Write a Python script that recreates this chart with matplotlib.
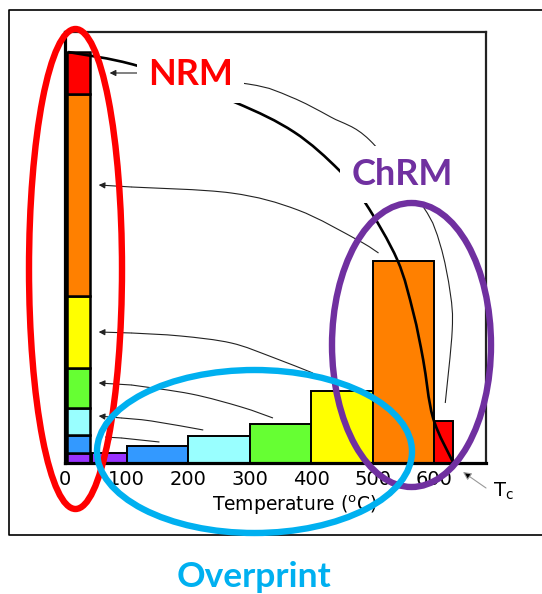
import matplotlib
matplotlib.use('Agg')
import matplotlib.pyplot as plt
from matplotlib.patches import Ellipse, PathPatch
from matplotlib.path import Path

W, H = 542, 594

# ---------------- data ----------------
step_colors = ['#9933FF', '#3399FF', '#99FFFF', '#66FF33', '#FFFF00', '#FF8000', '#FF0000']
step_lo = [44, 100, 200, 300, 400, 500, 600]
step_hi = [100, 200, 300, 400, 500, 600, 630]
step_moment = [10.5, 17.5, 27.5, 39.5, 72, 202, 42.5]

nrm_col_lo = 3
nrm_col_hi = 40

tick_vals = [0, 100, 200, 300, 400, 500, 600]
tick_labels = ['0', '100', '200', '300', '400', '500', '600']

# remaining magnetisation curve
curve_T = [5, 119, 275, 372, 445, 488, 540, 566, 582, 598, 631]
curve_M = [411, 397, 361, 331, 293, 260, 203, 150, 103, 45, 0]

# thin arcs linking each step to its NRM segment (T, M points) + arrow tip
red_arc_T = [617.8, 629.1, 625.9, 609.7, 582.2, 494.8, 431.7, 367.0, 297.4, 119.4]
red_arc_M = [60, 133, 170, 218, 256, 323, 346, 366, 379, 390]
red_tip = (72.5, 390)
orange_arc_T = [509.4, 475.4, 378.3, 270.2, 108.1]
orange_arc_M = [210, 223, 253, 270, 276]
orange_tip = (54.7, 278)
yellow_arc_T = [402.6, 336.2, 270.2, 188.0, 108.1]
yellow_arc_M = [90, 106, 120, 127, 130]
yellow_tip = (54.7, 131)
green_arc_T = [337.9, 286.4, 205.2, 108.1]
green_arc_M = [45, 56, 69, 78]
green_tip = (54.7, 80)
cyan_arc_T = [224.6, 140.5, 91.9]
cyan_arc_M = [33, 42, 45]
cyan_tip = (54.7, 47)
blue_arc_T = [153.4, 91.9]
blue_arc_M = [21, 25]
blue_tip = (64.4, 26)


def smooth_path(xs, ys):
    """Catmull-Rom curve through the given points, as a cubic Bezier Path."""
    pts = list(zip(xs, ys))
    if len(pts) < 3:
        return Path(pts)
    ext = [pts[0]] + pts + [pts[-1]]
    verts = [pts[0]]
    codes = [Path.MOVETO]
    for i in range(1, len(ext) - 2):
        p0, p1, p2, p3 = ext[i - 1], ext[i], ext[i + 1], ext[i + 2]
        c1 = (p1[0] + (p2[0] - p0[0]) / 6, p1[1] + (p2[1] - p0[1]) / 6)
        c2 = (p2[0] - (p3[0] - p1[0]) / 6, p2[1] - (p3[1] - p1[1]) / 6)
        verts += [c1, c2, p2]
        codes += [Path.CURVE4] * 3
    return Path(verts, codes)


# ---------------- figure ----------------
fig = plt.figure(figsize=(W / 100, H / 100), dpi=100)
ax = fig.add_axes([65 / W, 1 - 463 / H, (486 - 65) / W, (463 - 32) / H])
ax.set_xlim(2.9, 684)
ax.set_ylim(0, 431)

# histogram of blocked moments
widths = [h - l for l, h in zip(step_lo, step_hi)]
ax.bar(step_lo, step_moment, width=widths, align='edge', color=step_colors,
       edgecolor='black', linewidth=1.4, zorder=2)

# stacked NRM column
bottom = 0
for m, c in zip(step_moment, step_colors):
    ax.bar(nrm_col_lo, m, width=nrm_col_hi - nrm_col_lo, bottom=bottom, align='edge',
           color=c, edgecolor='black', linewidth=1.8, zorder=2)
    bottom += m

# demagnetisation curve
ax.add_patch(PathPatch(smooth_path(curve_T, curve_M), fill=False, ec='black',
                       lw=1.9, zorder=4, capstyle='butt'))

# arcs
arcs = [(red_arc_T, red_arc_M, red_tip), (orange_arc_T, orange_arc_M, orange_tip),
        (yellow_arc_T, yellow_arc_M, yellow_tip), (green_arc_T, green_arc_M, green_tip),
        (cyan_arc_T, cyan_arc_M, cyan_tip), (blue_arc_T, blue_arc_M, blue_tip)]
for aT, aM, tip in arcs:
    ax.add_patch(PathPatch(smooth_path(aT, aM), fill=False, ec='#222222', lw=0.8, zorder=3))
    ax.annotate('', xy=tip, xytext=(aT[-1], aM[-1]),
                arrowprops=dict(arrowstyle='-|>', color='#222222', lw=0.8,
                                mutation_scale=9, shrinkA=0, shrinkB=0), zorder=3)

# axes styling
for s in ['left', 'bottom']:
    ax.spines[s].set_linewidth(2.3)
    ax.spines[s].set_color('black')
for s in ['top', 'right']:
    ax.spines[s].set_linewidth(1.6)
    ax.spines[s].set_color('#222222')
ax.set_yticks([])
ax.set_xticks(tick_vals, tick_labels, fontsize=14)
ax.tick_params(axis='x', length=0, pad=5)
ax.set_xlabel('Temperature ($^{\\rm o}$C)', fontsize=13.5)
ax.xaxis.set_label_coords(0.546, -0.072)

# ---------------- overlay canvas (pixel coordinates) ----------------
cv = fig.add_axes([0, 0, 1, 1], zorder=5)
cv.set_xlim(0, W)
cv.set_ylim(H, 0)
cv.axis('off')

cv.plot([600, 9, 9, 600], [10, 10, 535, 535], color='black', lw=1.2)

box = dict(boxstyle='square,pad=0.32', fc='white', ec='none')
cv.text(190.5, 85, 'NRM', color='#FF0000', fontsize=26, fontweight='bold',
        family='Lato', ha='center', va='baseline', bbox=box, zorder=2)
cv.text(402, 185, 'ChRM', color='#7030A0', fontsize=26, fontweight='bold',
        family='Lato', ha='center', va='baseline', bbox=box, zorder=2)
cv.text(254, 587, 'Overprint', color='#00B0F0', fontsize=25.5, fontweight='bold',
        family='Lato', ha='center', va='baseline', zorder=2)

cv.add_patch(Ellipse((75.5, 269), 93, 480, fill=False, ec='#FF0000', lw=4.6, zorder=6))
cv.add_patch(Ellipse((411.5, 345), 159, 284, fill=False, ec='#7030A0', lw=4.6, zorder=6))
cv.add_patch(Ellipse((254.5, 451.5), 315, 163, fill=False, ec='#00B0F0', lw=4.6, zorder=7))

cv.annotate('', xy=(463, 472), xytext=(486, 488),
            arrowprops=dict(arrowstyle='-|>', mutation_scale=12, lw=0.8,
                            ec='#999999', fc='black', shrinkA=0, shrinkB=0))
cv.text(493, 497, r'T$_{\rm c}$', fontsize=14, ha='left', va='baseline')

fig.savefig('out.png', dpi=100)
